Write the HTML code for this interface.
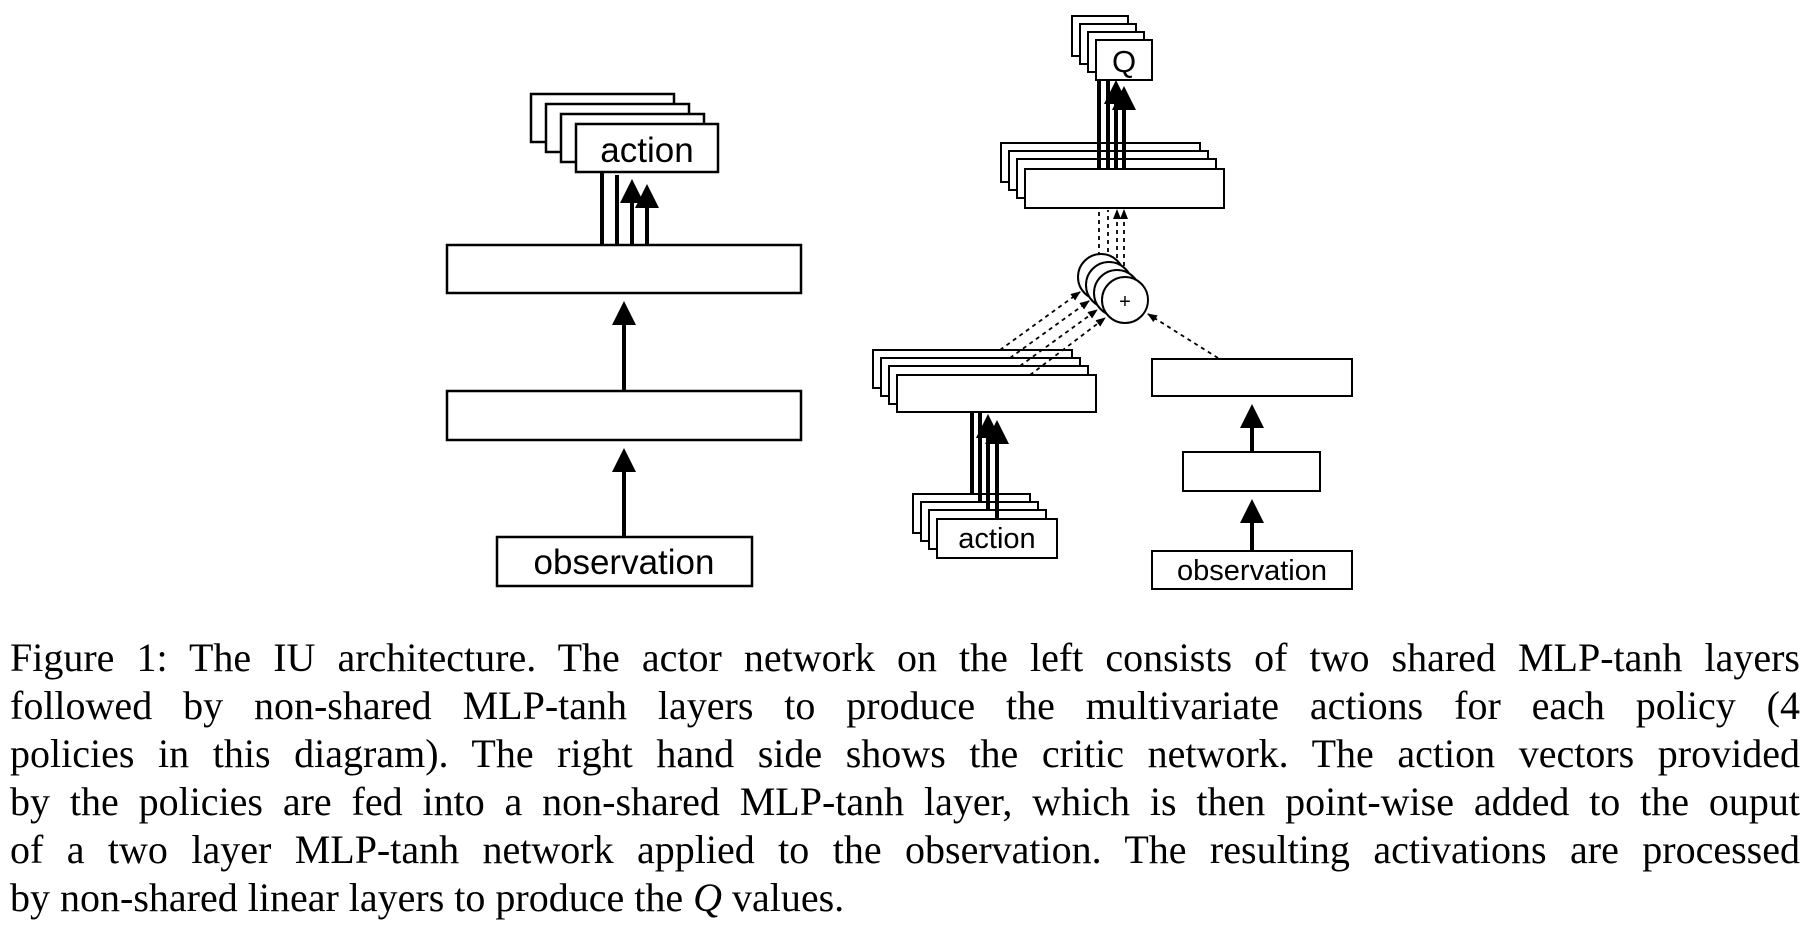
<!DOCTYPE html>
<html><head><meta charset="utf-8"><style>
html,body{margin:0;padding:0;background:#fff;}
body{width:1811px;height:938px;position:relative;overflow:hidden;}
svg{position:absolute;left:0;top:0;}
.cap{position:absolute;left:10px;width:1790px;font-family:"Liberation Serif",serif;font-size:40px;line-height:48px;color:#000;text-align:justify;text-align-last:justify;white-space:nowrap;}
.cap div{height:48px;white-space:normal;}
</style></head><body>
<svg width="1811" height="938" viewBox="0 0 1811 938">
<defs>
<marker id="ah" markerWidth="6" markerHeight="6" refX="5" refY="3" orient="auto" markerUnits="strokeWidth"><path d="M0,0 L6,3 L0,6 z" fill="#000"/></marker>
<marker id="ad" markerWidth="10" markerHeight="8" refX="9" refY="4" orient="auto" markerUnits="userSpaceOnUse"><path d="M0,0 L10,4 L0,8 z" fill="#000"/></marker>
</defs>
<g fill="#fff" stroke="#000" stroke-width="2.5">
<rect x="447" y="245" width="354" height="48"/>
<rect x="447" y="391" width="354" height="49"/>
<rect x="497" y="537" width="255" height="49"/>
<rect x="531" y="94" width="143" height="48"/>
<rect x="546" y="104" width="143" height="48"/>
<rect x="561" y="114" width="143" height="48"/>
<rect x="576" y="124" width="142" height="48"/>
</g>
<g stroke="#000" stroke-width="4" fill="none">
<line x1="624" y1="537" x2="624" y2="452" marker-end="url(#ah)"/>
<line x1="624" y1="391" x2="624" y2="305" marker-end="url(#ah)"/>
<line x1="602" y1="245" x2="602" y2="172"/>
<line x1="617" y1="245" x2="617" y2="175"/>
<line x1="632" y1="245" x2="632" y2="183" marker-end="url(#ah)"/>
<line x1="647" y1="245" x2="647" y2="188" marker-end="url(#ah)"/>
</g>
<g font-family="Liberation Sans, sans-serif" text-anchor="middle" fill="#000">
<text x="647" y="162" font-size="35">action</text>
<text x="624" y="574" font-size="35">observation</text>
</g>
<g fill="#fff" stroke="#000" stroke-width="2">
<rect x="1072" y="16" width="56" height="40"/>
<rect x="1080" y="24" width="56" height="40"/>
<rect x="1088" y="32" width="56" height="40"/>
<rect x="1096" y="40" width="56" height="40"/>
<rect x="1001" y="143" width="199" height="39"/>
<rect x="1009" y="151" width="199" height="39"/>
<rect x="1017" y="159" width="199" height="39"/>
<rect x="1025" y="169" width="199" height="39"/>
<rect x="873" y="350" width="199" height="38"/>
<rect x="881" y="358" width="199" height="38"/>
<rect x="889" y="366" width="199" height="38"/>
<rect x="897" y="375" width="199" height="37"/>
<rect x="913" y="494" width="117" height="39"/>
<rect x="921" y="502" width="117" height="39"/>
<rect x="929" y="510" width="117" height="39"/>
<rect x="937" y="519" width="120" height="39"/>
<rect x="1152" y="359" width="200" height="37"/>
<rect x="1183" y="452" width="137" height="39"/>
<rect x="1152" y="551" width="200" height="38"/>
</g>
<g stroke="#000" stroke-width="4" fill="none">
<line x1="1099" y1="169" x2="1099" y2="80"/>
<line x1="1108" y1="169" x2="1108" y2="80"/>
<line x1="1116" y1="169" x2="1116" y2="84" marker-end="url(#ah)"/>
<line x1="1124" y1="169" x2="1124" y2="90" marker-end="url(#ah)"/>
<line x1="972" y1="494" x2="972" y2="412"/>
<line x1="980" y1="502" x2="980" y2="412"/>
<line x1="988" y1="510" x2="988" y2="418" marker-end="url(#ah)"/>
<line x1="997" y1="519" x2="997" y2="424" marker-end="url(#ah)"/>
<line x1="1252" y1="551" x2="1252" y2="503" marker-end="url(#ah)"/>
<line x1="1252" y1="452" x2="1252" y2="408" marker-end="url(#ah)"/>
</g>
<g stroke="#000" stroke-width="1.8" stroke-dasharray="4,4" fill="none">
<line x1="1099" y1="256" x2="1099" y2="210"/>
<line x1="1108" y1="260" x2="1108" y2="210"/>
<line x1="1117" y1="266" x2="1117" y2="210" marker-end="url(#ad)"/>
<line x1="1124" y1="274" x2="1124" y2="210" marker-end="url(#ad)"/>
<line x1="1000" y1="350" x2="1080" y2="292" marker-end="url(#ad)"/>
<line x1="1010" y1="358" x2="1089" y2="301" marker-end="url(#ad)"/>
<line x1="1020" y1="366" x2="1097" y2="310" marker-end="url(#ad)"/>
<line x1="1030" y1="375" x2="1105" y2="318" marker-end="url(#ad)"/>
<line x1="1218" y1="358" x2="1148" y2="314" marker-end="url(#ad)"/>
</g>
<g fill="#fff" stroke="#000" stroke-width="2">
<circle cx="1101" cy="277" r="23"/>
<circle cx="1109" cy="285" r="23"/>
<circle cx="1117" cy="293" r="23"/>
<circle cx="1125" cy="300" r="23"/>
</g>
<g font-family="Liberation Sans, sans-serif" text-anchor="middle" fill="#000">
<text x="1124" y="72" font-size="31">Q</text>
<text x="1125" y="308" font-size="20">+</text>
<text x="997" y="548" font-size="29">action</text>
<text x="1252" y="580" font-size="29">observation</text>
</g>
</svg>
<div class="cap" style="top:634px">
<div>Figure 1: The IU architecture. The actor network on the left consists of two shared MLP-tanh layers</div>
<div>followed by non-shared MLP-tanh layers to produce the multivariate actions for each policy (4</div>
<div>policies in this diagram). The right hand side shows the critic network. The action vectors provided</div>
<div>by the policies are fed into a non-shared MLP-tanh layer, which is then point-wise added to the ouput</div>
<div>of a two layer MLP-tanh network applied to the observation. The resulting activations are processed</div>
<div style="text-align-last:left">by non-shared linear layers to produce the <i>Q</i> values.</div>
</div>
</body></html>
